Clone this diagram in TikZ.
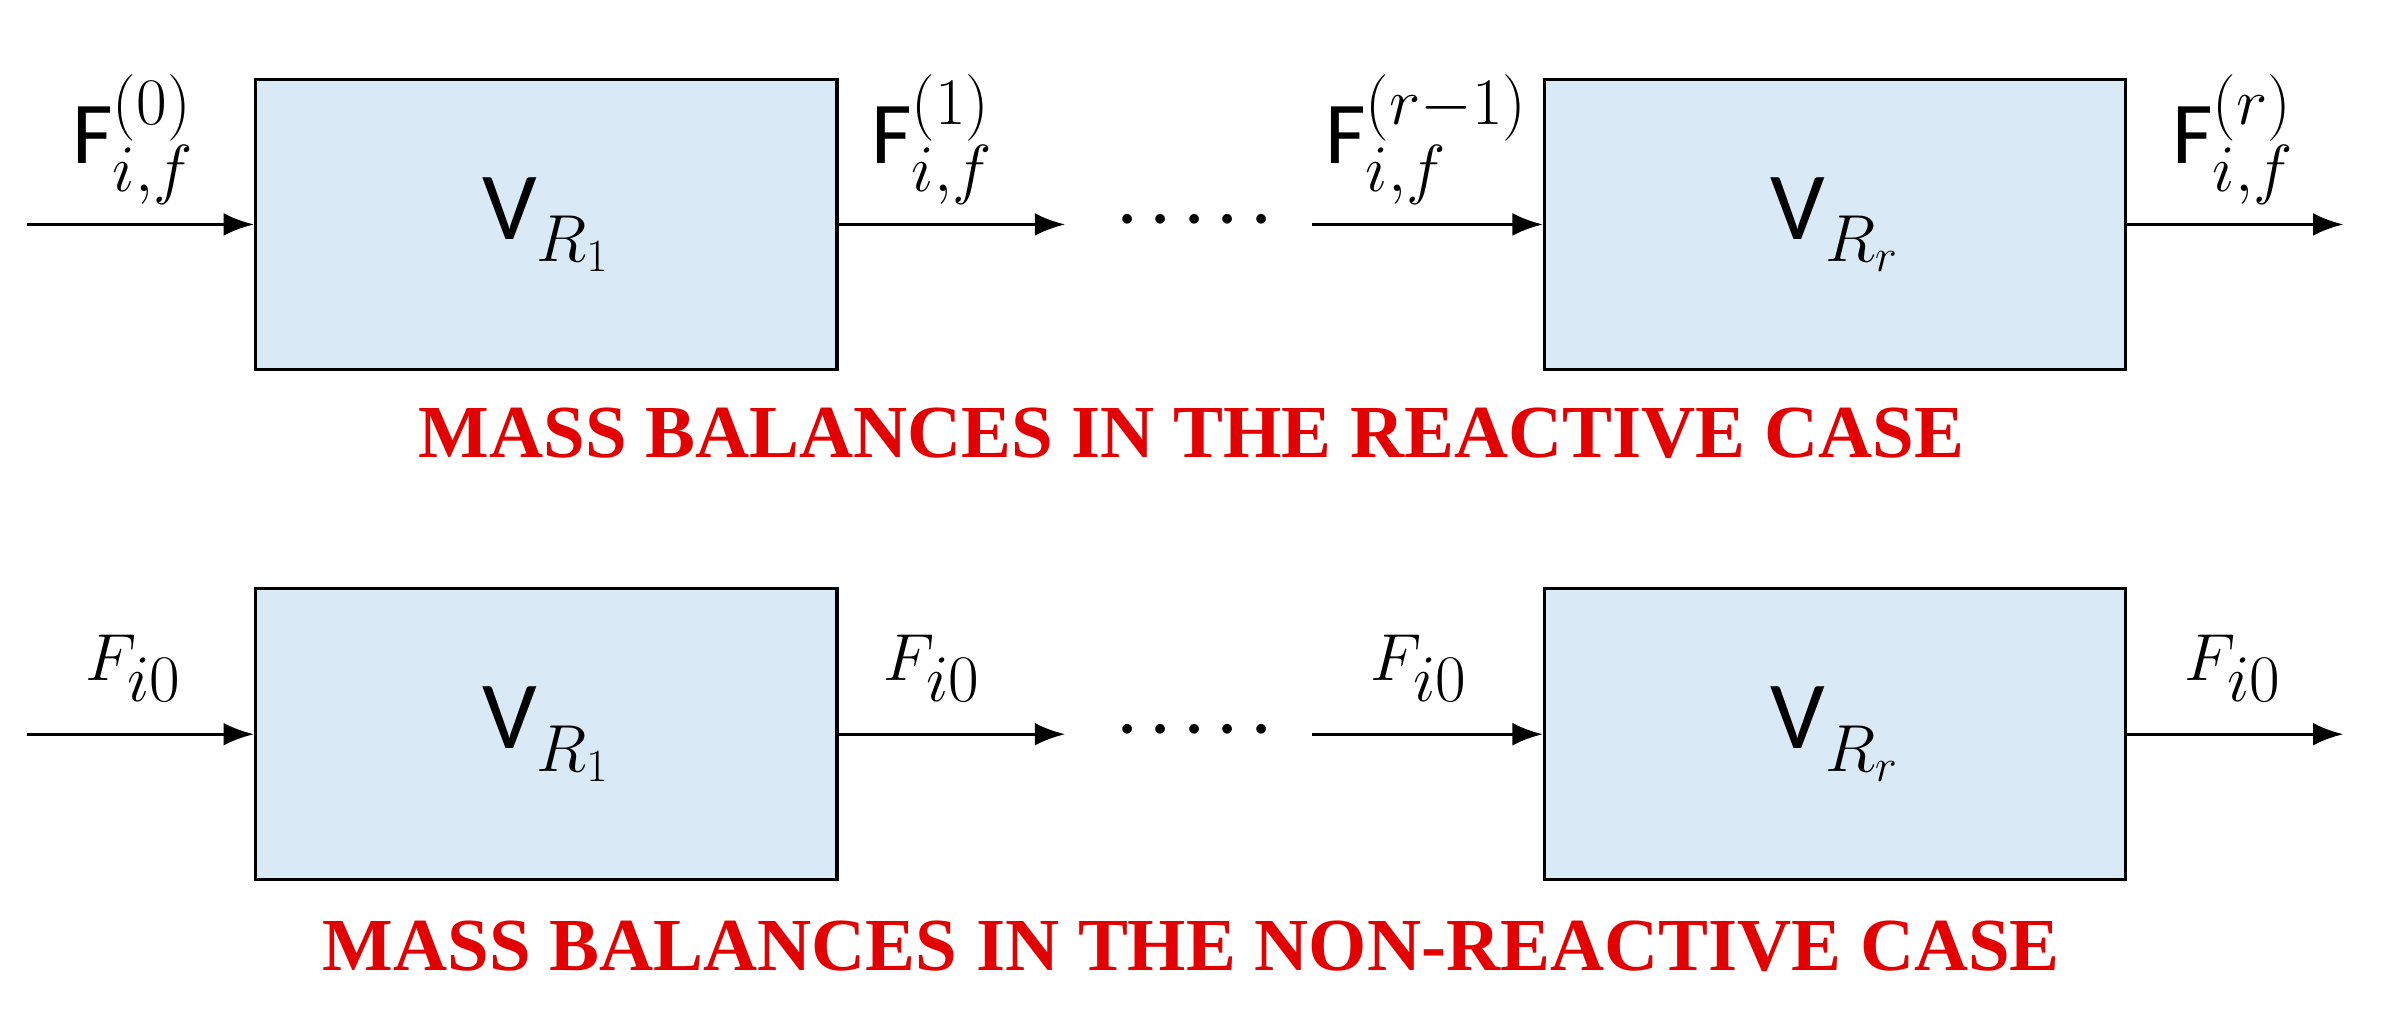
\documentclass[tikz,border=0pt]{standalone}
\usepackage{fontspec}
\setmainfont{Carlito}
\newfontfamily\titlefont{Liberation Serif}
\usetikzlibrary{positioning,arrows.meta}
\definecolor{boxblue}{RGB}{218,233,246}
\definecolor{titlered}{RGB}{226,0,0}
\begin{document}
\begin{tikzpicture}[reactor/.style={draw,line width=1.2pt,fill=boxblue,minimum width=7.64cm,minimum height=3.82cm,font=\fontsize{36}{42}\selectfont},
    flow/.style={font=\fontsize{33}{38}\selectfont},
    stream/.style={line width=1.2pt,-{Latex[length=4mm,width=3mm]}},
    title/.style={text=titlered,font=\titlefont\bfseries\fontsize{28}{32}\selectfont}]
    \useasboundingbox (0,0) rectangle (31.36,13.28);

    % reactive case
    \node[reactor] at (7.18, 10.33) (r1) {V$_{R_1}$};
    \node[reactor] at (24.12, 10.33) (rr) {V$_{R_r}$};
    \coordinate (in1) at (0.36, 10.33);
    \coordinate (out1) at (14.0, 10.33);
    \node[font=\fontsize{30}{36}\selectfont] at (15.7, 10.4) (dots1) {.\,.\,.\,.\,.};
    \coordinate (in2) at (17.24, 10.33);
    \coordinate (out2) at (30.8, 10.33);
    \draw[stream] (in1) -- (r1);
    \draw[stream] (r1) -- (out1);
    \draw[stream] (in2) -- (rr);
    \draw[stream] (rr) -- (out2);
    \node[flow] at (1.75, 11.45) (f0) {F$_{i,f}^{(0)}$};
    \node[flow] at (12.25, 11.45) (f1) {F$_{i,f}^{(1)}$};
    \node[flow] at (18.75, 11.45) (fr1) {F$_{i,f}^{(r-1)}$};
    \node[flow] at (29.35, 11.45) (fr) {F$_{i,f}^{(r)}$};
    \node[title] at (15.66, 7.58) (t1) {MASS BALANCES IN THE REACTIVE CASE};

    % non-reactive case
    \node[reactor] at (7.18, 3.63) (s1) {V$_{R_1}$};
    \node[reactor] at (24.12, 3.63) (sr) {V$_{R_r}$};
    \coordinate (in3) at (0.36, 3.63);
    \coordinate (out3) at (14.0, 3.63);
    \node[font=\fontsize{30}{36}\selectfont] at (15.7, 3.7) (dots2) {.\,.\,.\,.\,.};
    \coordinate (in4) at (17.24, 3.63);
    \coordinate (out4) at (30.8, 3.63);
    \draw[stream] (in3) -- (s1);
    \draw[stream] (s1) -- (out3);
    \draw[stream] (in4) -- (sr);
    \draw[stream] (sr) -- (out4);
    \node[flow] at (1.75, 4.5) (g0) {$F_{i0}$};
    \node[flow] at (12.25, 4.5) (g1) {$F_{i0}$};
    \node[flow] at (18.65, 4.5) (gr1) {$F_{i0}$};
    \node[flow] at (29.35, 4.5) (gr) {$F_{i0}$};
    \node[title] at (15.66, 0.84) (t2) {MASS BALANCES IN THE NON-REACTIVE CASE};
\end{tikzpicture}
\end{document}
